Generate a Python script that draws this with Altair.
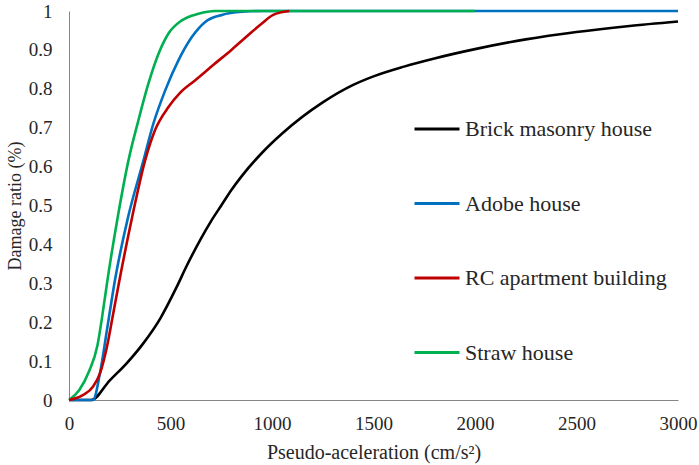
import altair as alt
import pandas as pd

# Fragility curves: damage ratio vs pseudo-acceleration for four building types
brick_x = [0, 110, 200, 285, 365, 450, 530, 580, 650, 700, 750, 800, 850, 950, 1050, 1250, 1400, 1500, 1650, 1800, 2000, 2250, 2500, 2750, 3000]
brick_y = [0, 0, 0.05, 0.095, 0.145, 0.21, 0.29, 0.345, 0.415, 0.46, 0.50, 0.54, 0.575, 0.635, 0.685, 0.765, 0.81, 0.832, 0.857, 0.878, 0.902, 0.927, 0.946, 0.961, 0.973]

adobe_x = [0, 118, 153, 187, 227, 291, 367, 416, 474, 539, 605, 671, 753, 852, 950, 3000]
adobe_y = [0, 0, 0.07, 0.18, 0.31, 0.47, 0.616, 0.711, 0.796, 0.873, 0.933, 0.972, 0.99, 0.998, 1, 1]

straw_x = [0, 50, 100, 140, 165, 190, 240, 293, 342, 391, 441, 490, 556, 638, 720, 2000]
straw_y = [0, 0.025, 0.075, 0.14, 0.22, 0.31, 0.47, 0.616, 0.719, 0.813, 0.89, 0.942, 0.976, 0.993, 1, 1]

rc_x = [0, 70, 118, 153, 187, 217, 242, 311, 375, 424, 490, 548, 622, 710, 800, 868, 950, 1006, 1085]
rc_y = [0, 0.013, 0.034, 0.069, 0.137, 0.22, 0.29, 0.47, 0.616, 0.694, 0.753, 0.79, 0.822, 0.861, 0.90, 0.931, 0.968, 0.99, 1]

series_names = ["Brick masonry house", "Adobe house", "RC apartment building", "Straw house"]
series_colors = ["#000000", "#0070C0", "#C00000", "#00B050"]

x_ticks = [0, 500, 1000, 1500, 2000, 2500, 3000]
y_ticks = [0, 0.1, 0.2, 0.3, 0.4, 0.5, 0.6, 0.7, 0.8, 0.9, 1]

# rows are stacked in drawing order (later series on top)
frames = []
for name, xs, ys in [
    ("Brick masonry house", brick_x, brick_y),
    ("Adobe house", adobe_x, adobe_y),
    ("Straw house", straw_x, straw_y),
    ("RC apartment building", rc_x, rc_y),
]:
    frames.append(pd.DataFrame({"accel": xs, "ratio": ys, "type": name}))
df = pd.concat(frames, ignore_index=True)
df["order"] = range(len(df))

FONT = "Liberation Serif"

chart = (
    alt.Chart(df)
    .mark_line(strokeWidth=2.6, interpolate="monotone")
    .encode(
        x=alt.X(
            "accel:Q",
            scale=alt.Scale(domain=[0, 3000], nice=False),
            axis=alt.Axis(
                values=x_ticks,
                format="d",
                title="Pseudo-aceleration (cm/s²)",
                labelPadding=14,
                labelFlush=False,
                titlePadding=9,
            ),
        ),
        y=alt.Y(
            "ratio:Q",
            scale=alt.Scale(domain=[0, 1], nice=False),
            axis=alt.Axis(
                values=y_ticks,
                format=".1~f",
                title="Damage ratio (%)",
                labelPadding=17,
                labelFlush=False,
                titlePadding=4,
                titleFontSize=18,
            ),
        ),
        color=alt.Color(
            "type:N",
            scale=alt.Scale(domain=series_names, range=series_colors),
            legend=alt.Legend(
                title=None,
                orient="none",
                legendX=344,
                legendY=94,
                symbolType="stroke",
                symbolSize=2025,
                symbolStrokeWidth=3,
                labelFont=FONT,
                labelFontSize=22,
                labelColor="#262626",
                labelOffset=4,
                labelLimit=0,
                rowPadding=39.5,
                padding=0,
            ),
        ),
        detail="type:N",
        order="order:Q",
    )
    .properties(
        width=609,
        height=389,
        padding={"left": 69, "top": 11, "right": 21, "bottom": 65},
        autosize=alt.AutoSizeParams(type="none"),
        background="white",
    )
    .configure_view(stroke=None)
    .configure_axis(
        grid=False,
        ticks=False,
        tickSize=0,
        domainColor="#868686",
        domainWidth=1,
        labelFont=FONT,
        labelFontSize=19,
        labelColor="#262626",
        titleFont=FONT,
        titleFontSize=20,
        titleFontWeight="normal",
        titleColor="#262626",
    )
)

chart.save("out.html", embed_options={"renderer": "svg", "actions": False})
